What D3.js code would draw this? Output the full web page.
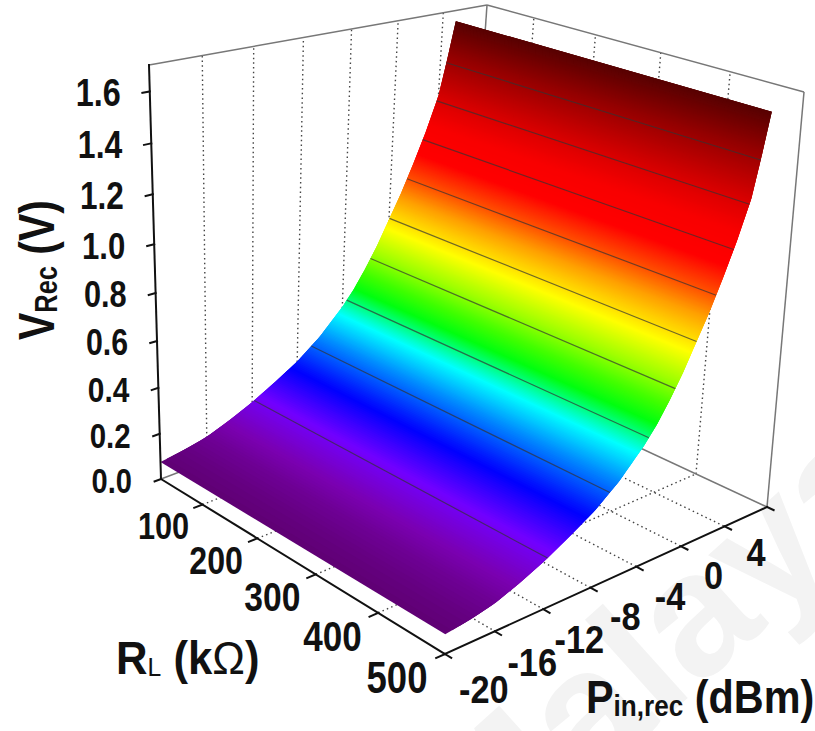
<!DOCTYPE html>
<html>
<head>
<meta charset="utf-8">
<script src="https://cdnjs.cloudflare.com/ajax/libs/d3/7.8.5/d3.min.js"></script>
<style>
  html, body { margin: 0; background: #fff; }
  text { font-family: "Liberation Sans", Arial, sans-serif; font-weight: bold; fill: #111; }
</style>
</head>
<body>
<script>
var width = 815,
    height = 731;

var pinSamples = [-24, -22, -20, -18, -16, -14, -12, -10, -8, -7, -6, -5, -4, -3, -2, -1, 0, 0.6, 1.2];
var vRecSamples = [0.076, 0.09, 0.112, 0.15, 0.195, 0.25, 0.31, 0.39, 0.495, 0.56, 0.64, 0.73, 0.835, 0.94, 1.06, 1.19, 1.34, 1.49, 1.654];
var contourLevels = [0.2, 0.36, 0.52, 0.68, 0.84, 1.0, 1.16, 1.32, 1.48];
var rlTicks = [100, 200, 300, 400, 500];
var pinTicks = [-20, -16, -12, -8, -4, 0, 4];
var vTicks = [0, 0.2, 0.4, 0.6, 0.8, 1.0, 1.2, 1.4, 1.6];
var colorLevels = [0.07, 0.14, 0.21, 0.29, 0.37, 0.47, 0.56, 0.62, 0.7, 0.8, 0.92, 1.0, 1.1, 1.22, 1.33, 1.5, 1.654];
var colorValues = ['#5e0070', '#7a00b0', '#7200ff', '#0000ff', '#0070ff', '#00ffff', '#00ff10', '#40ff00', '#a0ff00', '#ffff00', '#ffa000', '#ff5000', '#ff0000', '#f80000', '#d80000', '#980000', '#560202'];

var rMin = 20, rMax = 500, pMin = -24, pMax = 4, vMax = 1.7;

var svg = d3.select("body").append("svg")
    .attr("width", width)
    .attr("height", height)
    .style("display", "block");

var rScale = d3.scaleLinear().domain([rMin, rMax]).range([0, 1]),
    pScale = d3.scaleLinear().domain([pMin, pMax]).range([0, 1]),
    vScale = d3.scaleLinear().domain([0, vMax]).range([0, 1]),
    vToP = d3.scaleLinear().domain(vRecSamples).range(pinSamples),
    color = d3.scaleLinear().domain(colorLevels).range(colorValues),
    vFont = d3.scaleLinear().domain([0, 1.6]).range([35, 39]),
    rlFont = d3.scaleLinear().domain([100, 500]).range([37, 44]),
    rlShift = d3.scaleLinear().domain([100, 500]).range([-39, -48]),
    rlDrop = d3.scaleLinear().domain([100, 500]).range([21, 23]),
    pinDrop = d3.scaleLinear().domain(pinTicks).range([58, 53, 51, 49.5, 50, 49, 45]);

// unit square -> quad, so the perspective of the box carries over
function quad(p00, p10, p11, p01) {
  var sx = p00[0] - p10[0] + p11[0] - p01[0],
      sy = p00[1] - p10[1] + p11[1] - p01[1],
      d1x = p10[0] - p11[0], d1y = p10[1] - p11[1],
      d2x = p01[0] - p11[0], d2y = p01[1] - p11[1],
      det = d1x * d2y - d2x * d1y,
      g = (sx * d2y - d2x * sy) / det,
      h = (d1x * sy - sx * d1y) / det;
  return function(u, v) {
    var w = 1 + g * u + h * v;
    return [
      (p00[0] + (p10[0] * (1 + g) - p00[0]) * u + (p01[0] * (1 + h) - p00[0]) * v) / w,
      (p00[1] + (p10[1] * (1 + g) - p00[1]) * u + (p01[1] * (1 + h) - p00[1]) * v) / w
    ];
  };
}

var floor = quad([161, 479], [445, 654], [767, 507], [462, 365]),
    roof = quad([149, 65], [452, 175], [804, 92], [487, 5]);

function project(r, p, v) {
  var u = rScale(r), t = pScale(p), w = vScale(v),
      a = floor(u, t), b = roof(u, t),
      k = w / (1 + 0.09 * (1 - w));
  return [a[0] + (b[0] - a[0]) * k, a[1] + (b[1] - a[1]) * k];
}

function seg(g, from, to, cls) {
  return g.append('line')
    .attr('class', cls)
    .attr('x1', from[0]).attr('y1', from[1])
    .attr('x2', to[0]).attr('y2', to[1]);
}

// watermark behind everything
svg.append('text')
  .attr('transform', 'translate(480,885) rotate(-42)')
  .attr('font-size', 175)
  .style('fill', '#f3f3f3')
  .text('Malaya');

// walls and floor
var box = svg.append('g').attr('fill', 'none');

pinTicks.slice(0, -1).forEach(function(p) {
  seg(box, project(rMin, p, 0), project(rMin, p, vMax), 'dot');
  seg(box, project(rMin, p, 0), project(rMax, p, 0), 'dot');
});
rlTicks.slice(0, -1).forEach(function(r) {
  seg(box, project(r, pMax, 0), project(r, pMax, vMax), 'dot');
  seg(box, project(r, pMin, 0), project(r, pMax, 0), 'dot');
});
box.selectAll('.dot')
  .attr('stroke', '#444')
  .attr('stroke-width', 1.4)
  .attr('stroke-dasharray', '1.5 3.2');

seg(box, project(rMin, pMin, 0), project(rMin, pMax, 0), 'edge');
seg(box, project(rMin, pMax, 0), project(rMax, pMax, 0), 'edge');
seg(box, project(rMin, pMax, 0), project(rMin, pMax, vMax), 'edge');
seg(box, project(rMax, pMax, 0), project(rMax, pMax, vMax), 'edge');
seg(box, project(rMin, pMin, vMax), project(rMin, pMax, vMax), 'edge');
seg(box, project(rMin, pMax, vMax), project(rMax, pMax, vMax), 'edge');
box.selectAll('.edge').attr('stroke', '#777').attr('stroke-width', 1.5);

// surface, thin strips from low to high, each one runs under the next
var nStrips = 420,
    vLow = vRecSamples[0],
    vHigh = vRecSamples[vRecSamples.length - 1],
    strips = d3.range(nStrips).map(function(i) {
      return [vLow + (vHigh - vLow) * i / nStrips, vLow + (vHigh - vLow) * Math.min(i + 3, nStrips) / nStrips];
    });

svg.append('g').selectAll('path')
  .data(strips)
  .enter().append('path')
  .attr('d', function(d) {
    var p0 = vToP(d[0]), p1 = vToP(d[1]);
    return 'M' + [project(rMin, p0, d[0]), project(rMax, p0, d[0]),
                  project(rMax, p1, d[1]), project(rMin, p1, d[1])].join('L') + 'Z';
  })
  .attr('fill', function(d) { return color(d[0]); });

// contour lines
svg.append('g').selectAll('line')
  .data(contourLevels)
  .enter().append('line')
  .attr('x1', function(d) { return project(rMin, vToP(d), d)[0]; })
  .attr('y1', function(d) { return project(rMin, vToP(d), d)[1]; })
  .attr('x2', function(d) { return project(rMax, vToP(d), d)[0]; })
  .attr('y2', function(d) { return project(rMax, vToP(d), d)[1]; })
  .attr('stroke', '#333')
  .attr('stroke-opacity', 0.7)
  .attr('stroke-width', 1.2);

// axes in black
var axes = svg.append('g').attr('stroke', '#111').attr('stroke-width', 2).attr('stroke-linecap', 'square');

seg(axes, project(rMin, pMin, 0), project(rMin, pMin, vMax));
seg(axes, project(rMin, pMin, 0), project(rMax, pMin, 0));
seg(axes, project(rMax, pMin, 0), project(rMax, pMax, 0));

vTicks.forEach(function(v) {
  seg(axes, project(rMin, pMin, v), project(rMin, pMin - 0.55, v));
});
rlTicks.forEach(function(r) {
  seg(axes, project(r, pMin, 0), project(r, pMin - 0.7, 0));
});
[pMin].concat(pinTicks).forEach(function(p) {
  seg(axes, project(rMax, p, 0), project(rMax + 9, p, 0));
});

// tick labels, squeezed like the original bold face
function label(x, y, size, txt, anchor, sx) {
  svg.append('text')
    .attr('transform', 'translate(' + x + ',' + y + ') scale(' + (sx || 0.83) + ',1)')
    .attr('font-size', size)
    .attr('text-anchor', anchor || 'middle')
    .attr('dy', '0.36em')
    .text(txt);
}

vTicks.forEach(function(v) {
  var pt = project(rMin, pMin, v);
  label(pt[0] - 29, pt[1] + 1, vFont(v), v.toFixed(1), 'end');
});
rlTicks.forEach(function(r) {
  var pt = project(r, pMin, 0);
  label(pt[0] + rlShift(r), pt[1] + rlDrop(r), rlFont(r), r);
});
pinTicks.forEach(function(p) {
  var pt = project(rMax, p, 0);
  label(pt[0] - 11, pt[1] + pinDrop(p), 39, p, 'middle', 0.88);
});

// axis titles
var vTitle = svg.append('text')
  .attr('transform', 'translate(54,340) rotate(-90) scale(0.82,1)')
  .attr('font-size', 50);
vTitle.append('tspan').text('V');
vTitle.append('tspan').attr('font-size', 31).attr('dy', 3).text('Rec');
vTitle.append('tspan').attr('dy', -3).text(' (V)');

var rTitle = svg.append('text')
  .attr('transform', 'translate(116,674) scale(0.95,1)')
  .attr('font-size', 46);
rTitle.append('tspan').text('R');
rTitle.append('tspan').attr('font-size', 26).attr('dy', 2).style('font-weight', 'normal').text('L');
rTitle.append('tspan').attr('dy', -2).text(' (k');
rTitle.append('tspan').style('font-weight', 'normal').text('\u03a9');
rTitle.append('tspan').text(')');

var pTitle = svg.append('text')
  .attr('transform', 'translate(586,713) scale(0.9,1)')
  .attr('font-size', 46);
pTitle.append('tspan').text('P');
pTitle.append('tspan').attr('font-size', 29).attr('dy', 3).text('in,rec');
pTitle.append('tspan').attr('dy', -3).text(' (dBm)');
</script>
</body>
</html>
